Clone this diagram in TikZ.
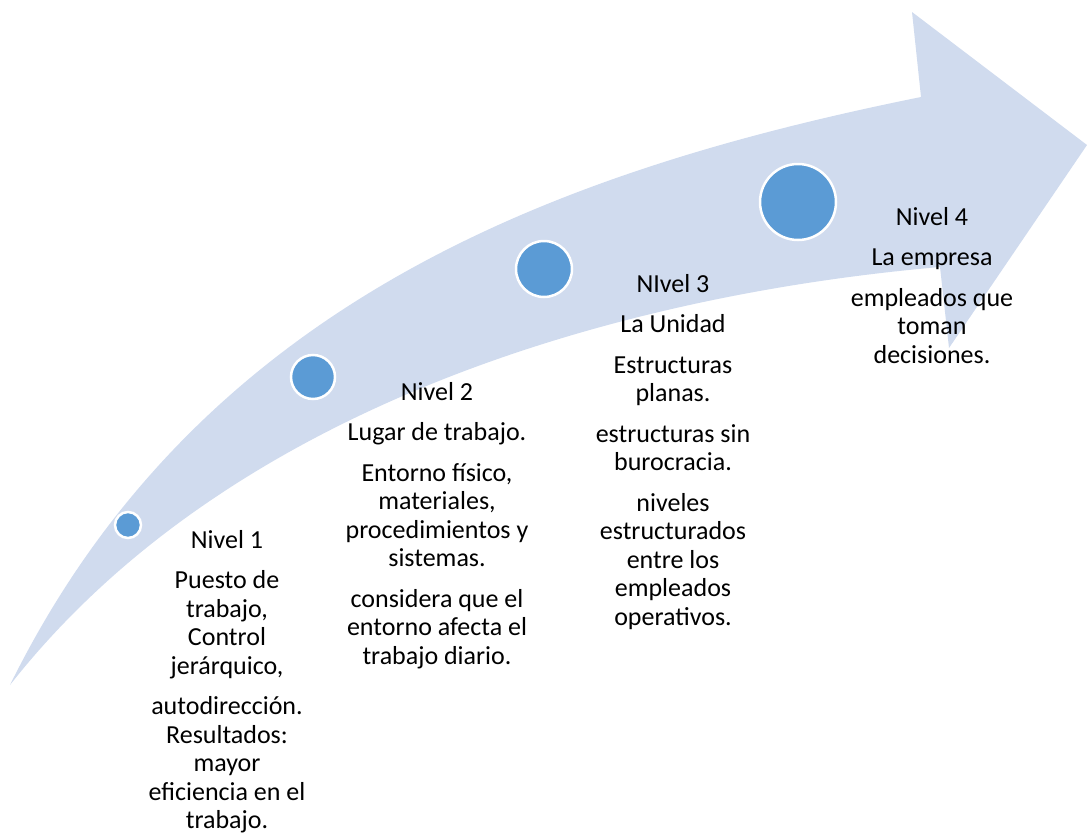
\documentclass[tikz,border=0pt]{standalone}
\usepackage{fontspec}
\setmainfont{Carlito}
\usepackage{tikz}
\usetikzlibrary{positioning}
\definecolor{arrowblue}{RGB}{208,219,238}
\definecolor{dotblue}{RGB}{91,155,213}

\begin{document}
\begin{tikzpicture}[x=1pt, y=-1pt,
        lvldot/.style={circle, draw=white, line width=2.5pt, fill=dotblue, inner sep=0pt},
        lvltext/.style={align=center, inner sep=0pt, anchor=north,
            font=\fontsize{26}{28.5}\selectfont}]
        \useasboundingbox (0,0) rectangle (1087,838);
        % curved arrow
        \fill[arrowblue] (10,685) .. controls (200,300) and (560,170) .. (921,97)
            -- (912,12) -- (1087,145) -- (949,348) -- (940,267)
            .. controls (620,295) and (230,405) .. (10,685) -- cycle;
        % dots on the arrow
        \node[lvldot, minimum size=26pt] (d1) at (128,525) {};
        \node[lvldot, minimum size=44pt] (d2) at (313,377) {};
        \node[lvldot, minimum size=56pt] (d3) at (544,269) {};
        \node[lvldot, minimum size=76pt] (d4) at (798,202) {};
        % level texts
        \node[lvltext] (t1) at (227,530) {Nivel 1\\[12pt]
            Puesto de\\ trabajo,\\ Control\\ jerárquico,\\[12pt]
            autodirección.\\ Resultados:\\ mayor\\ eficiencia en el\\ trabajo.};
        \node[lvltext] (t2) at (437,382) {Nivel 2\\[12pt]
            Lugar de trabajo.\\[12pt]
            Entorno físico,\\ materiales,\\ procedimientos y\\ sistemas.\\[12pt]
            considera que el\\ entorno afecta el\\ trabajo diario.};
        \node[lvltext] (t3) at (673,274) {NIvel 3\\[12pt]
            La Unidad\\[12pt]
            Estructuras\\ planas.\\[12pt]
            estructuras sin\\ burocracia.\\[12pt]
            niveles\\ estructurados\\ entre los\\ empleados\\ operativos.};
        \node[lvltext] (t4) at (932,207) {Nivel 4\\[12pt]
            La empresa\\[12pt]
            empleados que\\ toman\\ decisiones.};
    \end{tikzpicture}
\end{document}
